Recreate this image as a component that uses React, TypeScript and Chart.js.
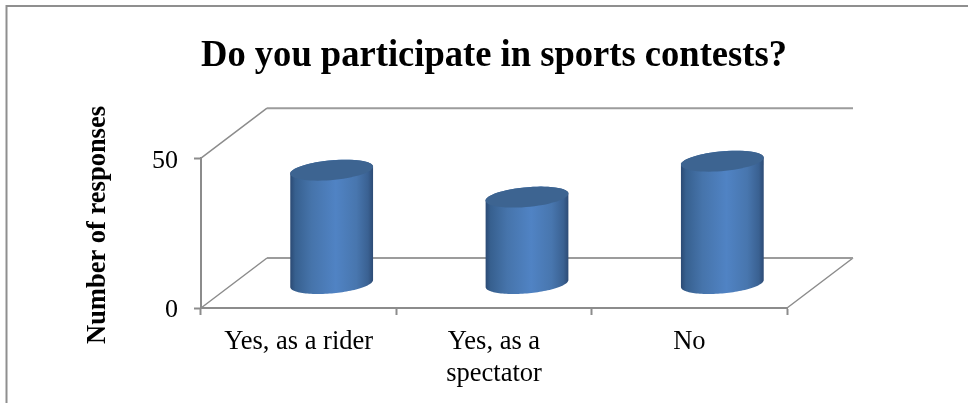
import { useEffect, useRef } from "react";
import { Chart, registerables } from "chart.js";

Chart.register(...registerables);

const categories = [["Yes, as a rider"], ["Yes, as a", "spectator"], ["No"]];
const responses = [38, 29, 41];
const yTicks = [0, 50];

const chartTitle = "Do you participate in sports contests?";
const yAxisTitle = "Number of responses";
const serif = "'Liberation Serif', 'Times New Roman', serif";
const axisGrey = "#8c8c8c";

// Oblique projection of the floor: how far the back wall sits from the front edge.
const DEPTH_X = 66;
const DEPTH_Y = -50;
const COLUMN_HALF_WIDTH = 39;
const ELLIPSE_DEPTH = 0.21;
const COLUMN_DROP = 1;

function ellipsePath(ctx: CanvasRenderingContext2D, cx: number, cy: number, from: number, to: number, moveFirst: boolean) {
  const steps = 60;
  for (let i = 0; i <= steps; i++) {
    const t = from + ((to - from) * i) / steps;
    const x = cx + COLUMN_HALF_WIDTH * Math.cos(t) + DEPTH_X * ELLIPSE_DEPTH * Math.sin(t);
    const y = cy + DEPTH_Y * ELLIPSE_DEPTH * Math.sin(t);
    if (i === 0 && moveFirst) ctx.moveTo(x, y);
    else ctx.lineTo(x, y);
  }
}

const wallsPlugin = {
  id: "walls",
  beforeDraw(chart: any) {
    const { ctx, chartArea: a, width, height } = chart;
    ctx.save();
    // Frame: left and top edges only
    ctx.strokeStyle = "#8f8f8f";
    ctx.lineWidth = 2;
    ctx.beginPath();
    ctx.moveTo(6.5, height);
    ctx.lineTo(6.5, 6);
    ctx.lineTo(width, 6);
    ctx.stroke();

    ctx.strokeStyle = axisGrey;
    ctx.lineWidth = 1.5;
    ctx.beginPath();
    // Side wall and floor diagonals
    ctx.moveTo(a.left, a.top);
    ctx.lineTo(a.left + DEPTH_X, a.top + DEPTH_Y);
    ctx.moveTo(a.left, a.bottom);
    ctx.lineTo(a.left + DEPTH_X, a.bottom + DEPTH_Y);
    ctx.moveTo(a.right + DEPTH_X, a.bottom + DEPTH_Y);
    ctx.lineTo(a.right, a.bottom);
    ctx.stroke();

    // Back wall edges
    ctx.lineWidth = 2;
    ctx.strokeStyle = "#9c9c9c";
    ctx.beginPath();
    ctx.moveTo(a.left + DEPTH_X, a.top + DEPTH_Y);
    ctx.lineTo(a.right + DEPTH_X, a.top + DEPTH_Y);
    ctx.moveTo(a.left + DEPTH_X, a.bottom + DEPTH_Y);
    ctx.lineTo(a.right + DEPTH_X, a.bottom + DEPTH_Y);
    ctx.stroke();

    // Rotated axis title
    ctx.translate(98, 225);
    ctx.rotate(-Math.PI / 2);
    ctx.fillStyle = "#000";
    ctx.font = `bold 26.5px ${serif}`;
    ctx.textAlign = "center";
    ctx.textBaseline = "middle";
    ctx.fillText(yAxisTitle, 0, 0);
    ctx.restore();
  },
};

const cylinderPlugin = {
  id: "cylinders",
  afterDatasetsDraw(chart: any) {
    const { ctx } = chart;
    const tan = Math.atan2(DEPTH_X * ELLIPSE_DEPTH, COLUMN_HALF_WIDTH);
    chart.getDatasetMeta(0).data.forEach((bar: any) => {
      const cx = bar.x + DEPTH_X / 2;
      const top = bar.y + DEPTH_Y / 2 + COLUMN_DROP;
      const base = bar.base + DEPTH_Y / 2 + COLUMN_DROP;
      const halfX = Math.hypot(COLUMN_HALF_WIDTH, DEPTH_X * ELLIPSE_DEPTH);

      const g = ctx.createLinearGradient(cx - halfX, 0, cx + halfX, 0);
      g.addColorStop(0, "#2b4a74");
      g.addColorStop(0.06, "#37608f");
      g.addColorStop(0.26, "#4674ab");
      g.addColorStop(0.55, "#5083c4");
      g.addColorStop(0.8, "#4876ae");
      g.addColorStop(0.94, "#3a6192");
      g.addColorStop(1, "#2d4b75");

      ctx.save();
      ctx.fillStyle = g;
      ctx.beginPath();
      ellipsePath(ctx, cx, top, tan + Math.PI, tan, true);
      ellipsePath(ctx, cx, base, tan, tan - Math.PI, false);
      ctx.closePath();
      ctx.fill();

      ctx.fillStyle = "#3d6491";
      ctx.beginPath();
      ellipsePath(ctx, cx, top, 0, Math.PI * 2, true);
      ctx.closePath();
      ctx.fill();
      ctx.restore();
    });
  },
};

export default function App() {
  const canvasRef = useRef<HTMLCanvasElement | null>(null);

  useEffect(() => {
    document.body.style.margin = "0";
    const chart = new Chart(canvasRef.current as HTMLCanvasElement, {
      type: "bar",
      data: {
        labels: categories,
        datasets: [{ label: yAxisTitle, data: responses, backgroundColor: "rgba(0,0,0,0)" }],
      },
      plugins: [wallsPlugin, cylinderPlugin],
      options: {
        animation: false,
        responsive: false,
        layout: { padding: { left: 0, right: 181, top: 0, bottom: 0 } },
        plugins: {
          legend: { display: false },
          tooltip: { enabled: false },
          title: {
            display: true,
            text: chartTitle,
            fullSize: false,
            color: "#000",
            font: { family: serif, size: 38.5, weight: "bold", lineHeight: 1.2 },
            padding: { top: 33, bottom: 79 },
          },
        },
        scales: {
          x: {
            afterFit(scale: any) {
              scale.height = 95;
            },
            grid: { drawOnChartArea: false, tickLength: 7, tickColor: axisGrey, tickWidth: 2 },
            border: { color: axisGrey, width: 2 },
            ticks: {
              color: "#000",
              font: { family: serif, size: 26.5, lineHeight: 1.2 },
              padding: 11,
              maxRotation: 0,
              autoSkip: false,
            },
          },
          y: {
            min: yTicks[0],
            max: yTicks[1],
            afterFit(scale: any) {
              scale.width = 201;
            },
            afterBuildTicks(scale: any) {
              scale.ticks = yTicks.map((value) => ({ value }));
            },
            grid: { drawOnChartArea: false, tickLength: 7, tickColor: axisGrey, tickWidth: 2 },
            border: { color: axisGrey, width: 2 },
            ticks: {
              color: "#000",
              // An empty first line with a tight line height sets the digits just below each tick.
              callback: (value: number) => ["", String(value)],
              font: { family: serif, size: 26, lineHeight: 0.2 },
              padding: 16,
            },
          },
        },
      },
    } as any);
    return () => chart.destroy();
  }, []);

  return <canvas ref={canvasRef} width={968} height={403} style={{ display: "block" }} />;
}
